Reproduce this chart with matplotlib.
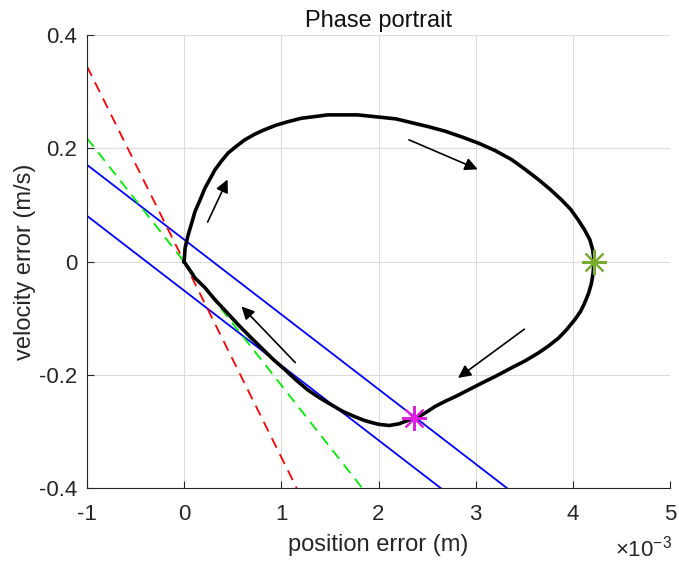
import matplotlib
matplotlib.use('Agg')
import matplotlib.pyplot as plt

plt.rcParams['font.family'] = ['Liberation Sans', 'DejaVu Sans']
plt.rcParams['mathtext.fontset'] = 'custom'
plt.rcParams['mathtext.rm'] = 'Liberation Sans'
plt.rcParams['mathtext.it'] = 'Liberation Sans'
plt.rcParams['axes.unicode_minus'] = False

# trajectory (position in 1e-3 m, velocity in m/s)
pos = [0.0, 0.010, 0.038, 0.072, 0.113, 0.164, 0.215, 0.266, 0.317, 0.386, 0.454, 0.539,
       0.624, 0.727, 0.829, 0.948, 1.068, 1.204, 1.341, 1.477, 1.614, 1.784, 1.955,
       2.177, 2.347, 2.518, 2.689, 2.859, 3.03, 3.2, 3.37, 3.507, 3.644, 3.763, 3.883,
       3.978, 4.053, 4.12, 4.173, 4.203, 4.217,
       4.207, 4.19, 4.162, 4.12, 4.077, 4.02, 3.934, 3.85, 3.746, 3.644, 3.507, 3.37,
       3.217, 3.064, 2.927, 2.79, 2.689, 2.586, 2.45, 2.364, 2.21, 2.11, 2.006,
       1.955, 1.853, 1.75, 1.63, 1.51, 1.392, 1.27, 1.153, 1.034, 0.914, 0.795, 0.676,
       0.556, 0.437, 0.317, 0.215, 0.113, 0.0]
vel = [0.0, 0.024, 0.045, 0.065, 0.089, 0.109, 0.130, 0.146, 0.162, 0.178, 0.192, 0.204,
       0.215, 0.225, 0.233, 0.241, 0.247, 0.253, 0.256, 0.259, 0.259, 0.259, 0.256,
       0.252, 0.245, 0.238, 0.230, 0.220, 0.209, 0.196, 0.180, 0.163, 0.145, 0.128, 0.109,
       0.092, 0.074, 0.056, 0.039, 0.021, 0.0,
       -0.020, -0.038, -0.055, -0.073, -0.088, -0.102, -0.120, -0.135, -0.149, -0.161, -0.175, -0.187,
       -0.201, -0.214, -0.226, -0.238, -0.246, -0.255, -0.270, -0.276, -0.286, -0.289, -0.287,
       -0.285, -0.280, -0.273, -0.264, -0.252, -0.240, -0.226, -0.209, -0.190, -0.172, -0.152, -0.132,
       -0.111, -0.089, -0.067, -0.046, -0.029, 0.0]

# start / end markers
start_pt = (4.217, 0.0)
end_pt = (2.364, -0.276)

# reference lines: slope, intercept
red_line = (-0.345, 0.0)
green_line = (-0.218, 0.0)
blue_lines = [(-0.132, 0.039), (-0.132, -0.051)]

# direction arrows: (tail, tip)
arrows = [((0.242, 0.070), (0.447, 0.145)),
          ((2.313, 0.215), (3.02, 0.163)),
          ((3.50, -0.119), (2.818, -0.205)),
          ((1.143, -0.178), (0.59, -0.079))]

xlim = (-1, 5)
ylim = (-0.4, 0.4)

fig = plt.figure(figsize=(6.79, 5.64), dpi=100)
ax = fig.add_axes([0.128, 0.134, 0.859, 0.804])

xs = [xlim[0], xlim[1]]
for s, b in blue_lines:
    ax.plot(xs, [s * x + b for x in xs], color='#0000ff', lw=1.3)
ax.plot(xs, [red_line[0] * x + red_line[1] for x in xs], color='#ff0000', lw=1.3,
        dashes=(6, 4))
ax.plot(xs, [green_line[0] * x + green_line[1] for x in xs], color='#00ee00', lw=1.3,
        dashes=(6, 4))

ax.plot(pos, vel, color='k', lw=2.6, solid_joinstyle='round')

ax.plot(*start_pt, marker=(8, 2, 0), ms=18, mew=1.5, color='#77ac30')
ax.plot(*end_pt, marker=(8, 2, 0), ms=18, mew=1.5, color='#e020e0')

for tail, tip in arrows:
    ax.annotate('', xy=tip, xytext=tail,
                arrowprops=dict(arrowstyle='-|>', color='k', lw=1.2,
                                mutation_scale=19, shrinkA=0, shrinkB=0))

ax.set_xlim(*xlim)
ax.set_ylim(*ylim)
ax.set_xticks([-1, 0, 1, 2, 3, 4, 5])
ax.set_yticks([-0.4, -0.2, 0, 0.2, 0.4])
ax.set_yticklabels(['-0.4', '-0.2', '0', '0.2', '0.4'])
ax.grid(True, color='#dcdcdc', lw=0.8)
ax.set_axisbelow(True)
ax.tick_params(direction='in', length=5, labelsize=16, colors='#262626')
ax.tick_params(axis='x', pad=11)
ax.tick_params(axis='y', pad=7)
for side in ['top', 'right']:
    ax.spines[side].set_visible(False)
for side in ['left', 'bottom']:
    ax.spines[side].set_color('#262626')
    ax.spines[side].set_linewidth(0.8)

ax.set_xlabel('position error (m)', fontsize=17, color='#262626', labelpad=7)
ax.set_ylabel('velocity error (m/s)', fontsize=17, color='#262626', labelpad=2)
ax.set_title('Phase portrait', fontsize=17, color='#111111', pad=6)
fig.text(0.99, 1 - 549 / 564, r'$\times10^{-3}$', fontsize=16, color='#262626',
         ha='right', va='center')

fig.savefig('out.png', dpi=100)
